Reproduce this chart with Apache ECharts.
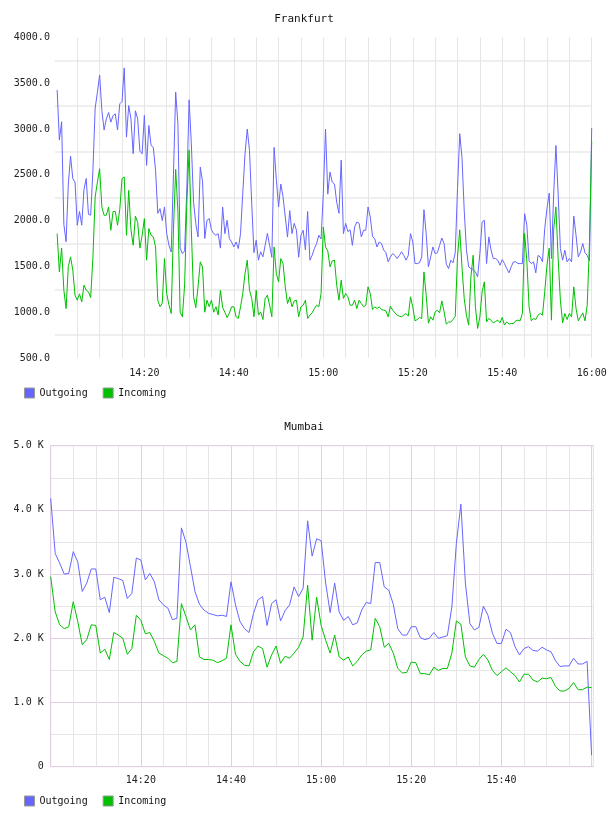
<!DOCTYPE html>
<html><head><meta charset="utf-8">
<script src="https://cdn.jsdelivr.net/npm/echarts@6/dist/echarts.min.js"></script>
<style>html,body{margin:0;padding:0;background:#fff}#c{width:608px;height:816px}</style>
</head><body><div id="c"></div>
<script>
const seriesNames = ['Outgoing', 'Incoming'];
const fraTitle = 'Frankfurt';
const mumTitle = 'Mumbai';

// Frankfurt: samples every 30 s, first sample at 14:00:30 (minutes after 14:00)
const fraStartMin = 0.5, fraStepMin = 0.5;
const fraOutgoing = [
3428,2880,3080,1960,1770,2400,2705,2460,2420,1950,
2100,1950,2340,2460,2070,2060,2550,3230,3400,3590,
3203,2990,3112,3180,3076,3148,3166,2990,3275,3300,
3668,2912,3257,3112,2730,3200,3112,2760,2730,3150,
2603,3039,2821,2800,2549,2080,2131,2000,2150,1858,
1731,1658,2500,3403,3057,1700,1640,1670,2367,3319,
2839,2200,1967,1822,2585,2430,1804,2004,2022,1900,
1858,1840,1858,1700,2149,1858,2004,1804,1767,1713,
1767,1695,1858,2300,2730,3000,2767,2185,1650,1786,
1568,1660,1605,1730,1860,1730,1600,2800,2450,2149,
2400,2260,2040,1820,2110,1858,1970,1895,1600,1840,
1895,1680,2100,1568,1620,1695,1750,1840,1800,2300,
3000,2290,2530,2420,2400,2200,2080,2660,1858,1970,
1880,1900,1730,1930,1985,1970,1822,1895,1895,2150,
2040,1830,1800,1713,1767,1750,1680,1650,1550,1604,
1640,1620,1586,1620,1660,1620,1568,1620,1858,1767,
1531,1531,1540,1604,2120,1858,1495,1604,1713,1640,
1650,1730,1810,1750,1524,1477,1568,1540,1650,2350,
2950,2690,2113,1684,1495,1477,1466,1440,1386,1640,
1985,2004,1531,1822,1680,1586,1586,1568,1513,1575,
1531,1477,1430,1495,1550,1550,1531,1531,1531,2076,
1950,1560,1531,1550,1430,1620,1604,1550,1913,2130,
2300,1586,2290,2821,2290,1695,1568,1677,1550,1586,
1550,2050,1840,1604,1658,1750,1650,1620,1560,3010];
const fraIncoming = [
1858,1440,1700,1240,1040,1500,1604,1460,1186,1131,
1200,1113,1295,1240,1222,1160,1600,2258,2420,2567,
2150,2058,2060,2149,1895,2100,2100,1950,2120,2458,
2476,1840,2331,1900,1731,2050,1980,1700,1840,2022,
1568,1913,1840,1822,1713,1131,1059,1100,1586,1200,
1080,986,1900,2560,2100,1000,950,1300,2200,2770,
1900,1168,1050,1277,1550,1495,1000,1131,1060,1131,
1000,1060,970,1240,1050,1000,940,990,1059,1059,
950,932,1059,1204,1422,1568,1240,1150,950,1240,
968,1004,920,1150,1186,1077,950,1713,1422,1331,
1586,1531,1277,1095,1168,1059,1123,1131,950,1059,
1077,1131,932,968,993,1040,1077,1059,1204,1931,
1713,1670,1495,1560,1568,1295,1131,1350,1150,1204,
1168,1077,1077,1131,1040,1131,1095,1059,1077,1277,
1204,1030,1059,1040,1059,1030,1022,1015,950,1066,
1022,993,968,957,950,968,986,957,1168,1059,
906,920,943,932,1440,1186,880,950,913,1004,
1022,993,1124,1004,870,892,892,920,957,1604,
1900,1495,1150,964,859,1386,1622,1059,823,950,
1222,1331,895,932,913,884,899,913,884,943,
859,895,870,877,877,906,913,906,986,1860,
1560,1059,906,932,920,968,986,968,1222,1513,
1700,913,1900,2150,1586,1131,884,986,920,986,
950,1277,1040,906,950,993,906,1077,1750,2870];

// Mumbai: samples every minute from 14:00
const mumStartMin = 0, mumStepMin = 1;
const mumOutgoing = [
4180,3320,3170,3000,3010,3350,3190,2730,2860,3080,
3080,2600,2640,2400,2950,2930,2900,2620,2700,3250,
3220,2910,3010,2880,2600,2520,2470,2290,2310,3720,
3500,3120,2730,2530,2440,2390,2370,2350,2360,2340,
2880,2520,2260,2150,2090,2390,2600,2650,2200,2540,
2600,2270,2430,2520,2800,2650,2780,3830,3280,3550,
3520,2860,2400,2860,2410,2280,2340,2210,2240,2440,
2560,2540,3180,3180,2800,2750,2530,2150,2050,2050,
2180,2180,2010,1980,2000,2090,2000,2020,2040,2490,
3480,4090,2860,2230,2130,2170,2500,2360,2080,1920,
1920,2140,2090,1870,1740,1840,1870,1810,1800,1860,
1820,1790,1650,1560,1570,1570,1690,1600,1600,1640,
180];
const mumIncoming = [
2960,2410,2210,2150,2180,2570,2260,1900,1980,2210,
2200,1770,1830,1670,2090,2050,2000,1750,1840,2360,
2280,2070,2090,1950,1770,1730,1690,1620,1640,2540,
2340,2130,2210,1710,1670,1670,1660,1620,1650,1690,
2210,1750,1640,1580,1570,1790,1880,1840,1550,1740,
1880,1610,1720,1690,1770,1860,2020,2830,1970,2640,
2200,1970,1770,2050,1710,1660,1710,1570,1640,1740,
1800,1820,2310,2180,1860,1920,1770,1530,1460,1470,
1630,1620,1450,1450,1430,1550,1500,1530,1530,1770,
2270,2220,1710,1570,1550,1670,1750,1660,1500,1420,
1480,1540,1480,1420,1320,1440,1440,1350,1320,1380,
1370,1390,1250,1180,1180,1220,1310,1200,1200,1240,
1230];

const FONT = '"DejaVu Sans Mono", "Liberation Mono", monospace';
const BLUE = '#6666ff', GREEN = '#00c000';
const PINK = '#e3cfe3', GRAY = '#e6e6e6';

function hhmm(m) {
  const t = 14 * 60 + Math.round(m);
  return Math.floor(t / 60) + ':' + String(t % 60).padStart(2, '0');
}
function pairs(start, step, vals) {
  return vals.map((v, i) => [start + i * step, v]);
}
const lbl = {fontFamily: FONT, fontSize: 10, color: '#222'};

const chart = echarts.init(document.getElementById('c'), null, {renderer: 'canvas'});
chart.setOption({
  animation: false,
  backgroundColor: '#fff',
  title: [
    {text: fraTitle, left: 'center', top: 14, padding: 0,
     textStyle: {fontFamily: FONT, fontSize: 11, fontWeight: 'normal', color: '#111'}},
    {text: mumTitle, left: 'center', top: 422, padding: 0,
     textStyle: {fontFamily: FONT, fontSize: 11, fontWeight: 'normal', color: '#111'}}
  ],
  legend: [
    {data: seriesNames, left: 24, top: 387.5, padding: 0, icon: 'rect', itemWidth: 10, itemHeight: 10, itemGap: 15,
     itemStyle: {borderColor: '#999', borderWidth: 1}, textStyle: {fontFamily: FONT, fontSize: 10, color: '#111'}},
    {data: seriesNames, left: 24, top: 795.5, padding: 0, icon: 'rect', itemWidth: 10, itemHeight: 10, itemGap: 15,
     itemStyle: {borderColor: '#999', borderWidth: 1}, textStyle: {fontFamily: FONT, fontSize: 10, color: '#111'}}
  ],
  grid: [
    {left: 54.9, top: 37.5, width: 536.8, height: 320.5, outerBoundsMode: 'none'},
    {left: 50.7, top: 445.7, width: 542.7, height: 321, show: true, borderColor: PINK, borderWidth: 1, outerBoundsMode: 'none'}
  ],
  xAxis: [
    {gridIndex: 0, type: 'value', min: 0, max: 120, interval: 5,
     axisLine: {show: false}, axisTick: {show: false},
     axisLabel: Object.assign({margin: 10, formatter: v => (v > 0 && v % 20 === 0) ? hhmm(v) : ''}, lbl),
     splitLine: {show: true, showMinLine: false, lineStyle: {color: GRAY, width: 1}}},
    {gridIndex: 1, type: 'value', min: 0, max: 120.4, interval: 5,
     axisLine: {show: false}, axisTick: {show: false},
     axisLabel: Object.assign({margin: 9, formatter: v => (v > 0 && v < 120 && v % 20 === 0) ? hhmm(v) : ''}, lbl),
     splitLine: {show: true, lineStyle: {color: [PINK, GRAY, GRAY, GRAY], width: 1}}}
  ],
  yAxis: [
    {gridIndex: 0, type: 'value', min: 500, max: 4000, interval: 250,
     axisLine: {show: false}, axisTick: {show: false},
     axisLabel: Object.assign({margin: 5, formatter: v => v % 500 === 0 ? v.toFixed(1) : ''}, lbl),
     splitLine: {show: true, lineStyle: {color: ['rgba(0,0,0,0)', '#efefef'], width: 2}}},
    {gridIndex: 1, type: 'value', min: 0, max: 5000, interval: 500,
     axisLine: {show: false}, axisTick: {show: false},
     axisLabel: Object.assign({margin: 7, formatter: v => v % 1000 === 0 ? (v === 0 ? '0' : (v / 1000).toFixed(1) + ' K') : ''}, lbl),
     splitLine: {show: true, lineStyle: {color: [PINK, GRAY], width: 1}}}
  ],
  series: [
    {name: seriesNames[0], type: 'line', xAxisIndex: 0, yAxisIndex: 0, showSymbol: false, color: BLUE,
     lineStyle: {width: 1, color: BLUE}, data: pairs(fraStartMin, fraStepMin, fraOutgoing)},
    {name: seriesNames[1], type: 'line', xAxisIndex: 0, yAxisIndex: 0, showSymbol: false, color: GREEN,
     lineStyle: {width: 1, color: GREEN}, data: pairs(fraStartMin, fraStepMin, fraIncoming)},
    {name: seriesNames[0], type: 'line', xAxisIndex: 1, yAxisIndex: 1, showSymbol: false, color: BLUE,
     lineStyle: {width: 1, color: BLUE}, data: pairs(mumStartMin, mumStepMin, mumOutgoing)},
    {name: seriesNames[1], type: 'line', xAxisIndex: 1, yAxisIndex: 1, showSymbol: false, color: GREEN,
     lineStyle: {width: 1, color: GREEN}, data: pairs(mumStartMin, mumStepMin, mumIncoming)}
  ]
});
</script></body></html>
